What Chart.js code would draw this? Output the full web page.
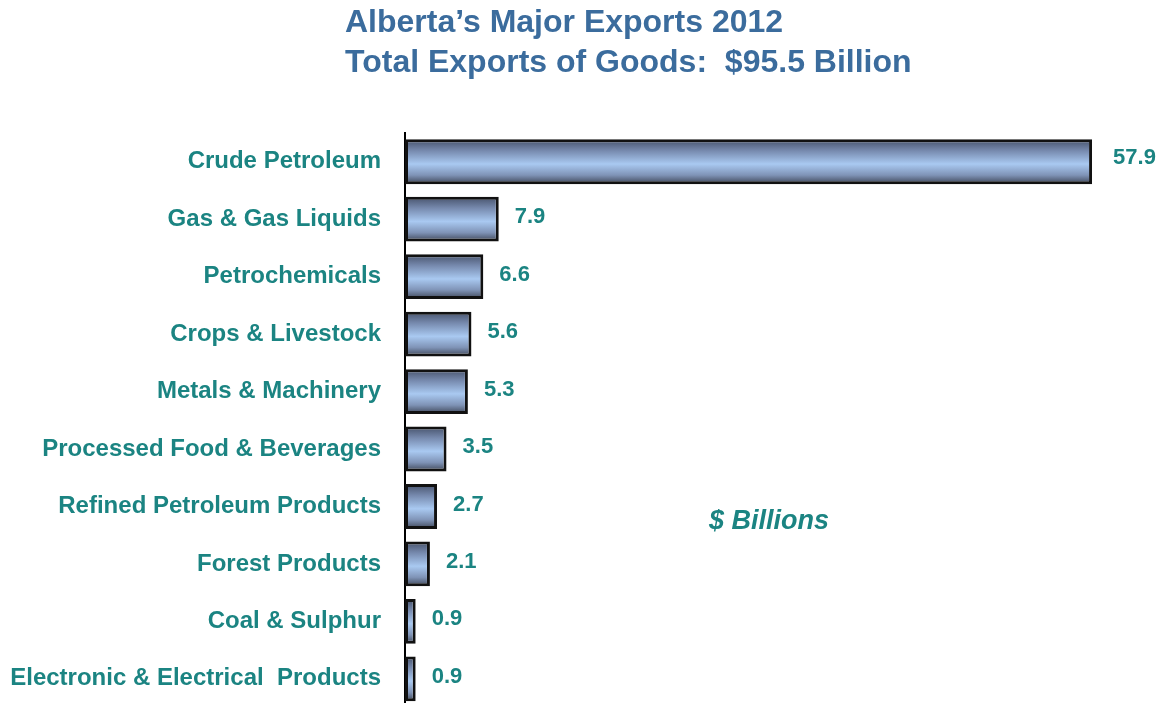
<!DOCTYPE html>
<html>
<head>
<meta charset="utf-8">
<script src="https://cdn.jsdelivr.net/npm/chart.js@4"></script>
<style>
  html, body { margin: 0; padding: 0; background: #ffffff; overflow: hidden; }
  #wrap { width: 1165px; height: 746px; position: relative; }
</style>
</head>
<body>
<div id="wrap"><canvas id="c" width="1165" height="746"></canvas></div>
<script>
// Alberta's major exports, 2012 ($ billions)
const categories = [
  'Crude Petroleum',
  'Gas & Gas Liquids',
  'Petrochemicals',
  'Crops & Livestock',
  'Metals & Machinery',
  'Processed Food & Beverages',
  'Refined Petroleum Products',
  'Forest Products',
  'Coal & Sulphur',
  'Electronic & Electrical  Products'
];
const exportValues = [57.9, 7.9, 6.6, 5.6, 5.3, 3.5, 2.7, 2.1, 0.9, 0.9];
const titleLines = ["Alberta\u2019s Major Exports 2012", 'Total Exports of Goods:  $95.5 Billion'];
const unitNote = '$ Billions';

const TEAL = '#1b8482';
const TITLE_BLUE = '#3b6c9d';
const FONT = 'Arial, "Liberation Sans", sans-serif';

// Vertical steel-blue shading across each bar, applied once bars are laid out
const shading = {
  id: 'shading',
  beforeDatasetsDraw(chart) {
    const c = chart.ctx;
    chart.getDatasetMeta(0).data.forEach(bar => {
      const h = bar.height;
      const top = bar.y - h / 2, bot = bar.y + h / 2;
      const g = c.createLinearGradient(0, top, 0, bot);
      g.addColorStop(0, '#45516a');
      g.addColorStop(0.25, '#7689ad');
      g.addColorStop(0.55, '#a9c9f1');
      g.addColorStop(0.8, '#7f93b6');
      g.addColorStop(1, '#3c4455');
      bar.options.backgroundColor = g;
    });
  }
};

const overlay = {
  id: 'overlay',
  afterDraw(chart) {
    const c = chart.ctx;
    c.save();
    // title
    c.fillStyle = TITLE_BLUE;
    c.font = 'bold 32px ' + FONT;
    c.textBaseline = 'middle';
    c.textAlign = 'left';
    c.fillText(titleLines[0], 345, 23);
    c.fillText(titleLines[1], 345, 63);
    // value labels
    const meta = chart.getDatasetMeta(0);
    c.fillStyle = TEAL;
    c.font = 'bold 22px ' + FONT;
    meta.data.forEach((bar, i) => {
      const gap = i === 0 ? 21 : 16;
      const lift = i === 0 ? 4 : 2;
      c.fillText(exportValues[i].toFixed(1), bar.x + gap, bar.y - lift);
    });
    // units note
    c.font = 'italic bold 27px ' + FONT;
    c.fillText(unitNote, 709, 522);
    c.restore();
  }
};

new Chart(document.getElementById('c'), {
  type: 'bar',
  data: {
    labels: categories,
    datasets: [{
      data: exportValues,
      backgroundColor: () => '#8fb0dc',
      borderColor: '#111111',
      borderWidth: 3,
      borderSkipped: false,
      categoryPercentage: 0.78,
      barPercentage: 1.0
    }]
  },
  options: {
    indexAxis: 'y',
    responsive: false,
    animation: false,
    layout: { padding: { top: 133, right: 48, bottom: 0, left: 0 } },
    plugins: { legend: { display: false }, tooltip: { enabled: false }, title: { display: false } },
    scales: {
      x: { display: false, min: 0, max: 60 },
      y: {
        afterFit(scale) { scale.width = 405; },
        grid: { display: false, drawTicks: false },
        border: { display: true, color: '#000000', width: 2 },
        ticks: {
          color: TEAL,
          padding: 24,
          font: { family: FONT, size: 24, weight: 'bold' }
        }
      }
    }
  },
  plugins: [shading, overlay]
});
</script>
</body>
</html>
